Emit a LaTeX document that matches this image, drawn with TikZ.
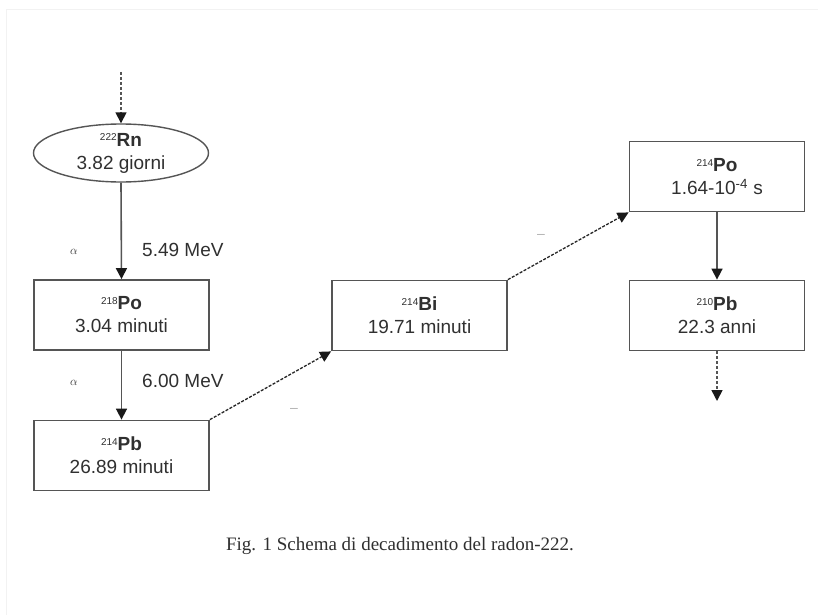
\documentclass[tikz,border=0pt]{standalone}
\usepackage{fontspec}
\setmainfont{Liberation Sans}
\newfontfamily\capfont{Liberation Serif}
\usetikzlibrary{shapes.geometric,arrows.meta}
\definecolor{boxline}{HTML}{555555}
\definecolor{txt}{HTML}{303030}
\tikzset{
  nuc/.style={draw=boxline, line width=1.8pt, minimum width=175pt, minimum height=70pt,
    inner sep=0pt, align=center, text=txt, font=\fontsize{19}{23}\selectfont},
  nucell/.style={nuc, ellipse, minimum height=58pt, line width=1.4pt},
  tip/.style={-{Triangle[width=11pt,length=11pt,color=black!90,fill=black!90]}},
  decay/.style={tip, draw=boxline, line width=1.6pt},
  beta/.style={tip, draw=black!85, line width=1.3pt, dash pattern=on 3pt off 1.5pt},
  chain/.style={tip, draw=boxline, line width=1.6pt, dash pattern=on 3pt off 2pt},
  lab/.style={text=txt, font=\fontsize{19}{23}\selectfont, inner sep=0pt, anchor=west},
  alab/.style={text=txt, font=\capfont\fontsize{13}{15}\selectfont, inner sep=0pt},
  faint/.style={text=black!30, font=\fontsize{14}{16}\selectfont, inner sep=0pt}
}
\newcommand{\iso}[2]{{\fontsize{10}{10}\selectfont\raisebox{1.0ex}{#1}}\textbf{#2}}
\begin{document}
\begin{tikzpicture}[x=1pt,y=-1pt]
\useasboundingbox (0,0) rectangle (818,615);
\fill[white] (0,0) rectangle (818,615);
\draw[black!5, line width=1pt] (6,615) -- (6,10) -- (818,10);

\node[nucell] (rn) at (121,153) {\iso{222}{Rn}\\3.82 giorni};
\node[nuc] (po218) at (121.5,315) {\iso{218}{Po}\\3.04 minuti};
\node[nuc] (pb214) at (121.5,455.5) {\iso{214}{Pb}\\26.89 minuti};
\node[nuc] (bi214) at (419.5,315.5) {\iso{214}{Bi}\\19.71 minuti};
\node[nuc] (po214) at (717,176.5) {\iso{214}{Po}\\1.64-10\textsuperscript{-4} s};
\node[nuc] (pb210) at (717,315.5) {\iso{210}{Pb}\\22.3 anni};

\coordinate (top) at (121,72);
\coordinate (bot) at (717,401);
\draw[chain] (top) -- (rn.north);
\draw[chain] (pb210.south) -- (bot);

\draw[decay] (rn.south) -- (po218.north);
\draw[decay] (po218.south) -- (pb214.north);
\draw[decay] (po214.south) -- (pb210.north);
\draw[beta] (pb214.north east) -- (bi214.south west);
\draw[beta] (bi214.north east) -- (po214.south west);

\node[alab] (a1) at (74,252) {$\alpha$};
\node[lab] (e1) at (142,250) {5.49 MeV};
\node[alab] (a2) at (74,383) {$\alpha$};
\node[lab] (e2) at (142,381) {6.00 MeV};
\node[faint] (m1) at (294,410) {\textendash};
\node[faint] (m2) at (541,236) {\textendash};

\node[text=txt, font=\capfont\fontsize{19}{23}\selectfont, inner sep=0pt] (cap) at (400,546)
  {Fig. 1 Schema di decadimento del radon-222.};
\end{tikzpicture}
\end{document}
